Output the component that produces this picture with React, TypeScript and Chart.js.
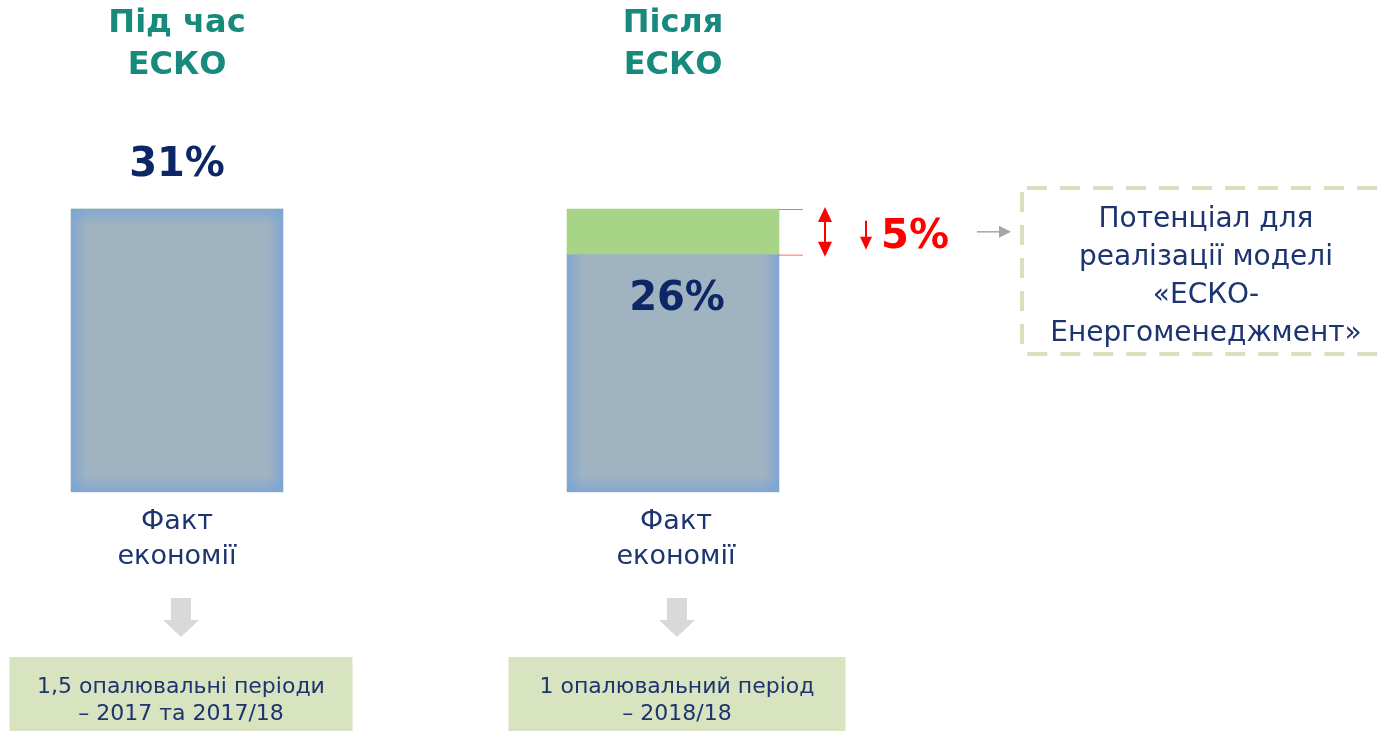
import React, { useEffect, useRef } from "react";
import { Chart, registerables } from "chart.js";

Chart.register(...registerables);

const categories = [["Під час", "ЕСКО"], ["Після", "ЕСКО"]];
const factValues = [31, 26];
const potentialValues = [0, 5];
const valueLabels = ["31%", "26%"];
const potentialLabel = "5%";
const barCaption = ["Факт", "економії"];
const periodLabels = [
  ["1,5 опалювальні періоди", "– 2017 та 2017/18"],
  ["1 опалювальний період", "– 2018/18"],
];
const noteLines = ["Потенціал для", "реалізації моделі", "«ЕСКО-", "Енергоменеджмент»"];

const FONT = '"DejaVu Sans", "Noto Sans", sans-serif';
const TEAL = "#17897d";
const NAVY = "#0d2766";
const NAVY_TXT = "#1c3470";
const RED = "#ff0000";
const BLUE_FILL = "#a0b3c1";
const GREEN_FILL = "#a8d488";
const BOX_FILL = "#d8e3bf";
const DASH = "#d6e2bd";

function arrowDown(ctx, cx, y0, y1, shaftW, headW, headH, color) {
  ctx.fillStyle = color;
  ctx.beginPath();
  ctx.moveTo(cx - shaftW / 2, y0);
  ctx.lineTo(cx + shaftW / 2, y0);
  ctx.lineTo(cx + shaftW / 2, y1 - headH);
  ctx.lineTo(cx + headW / 2, y1 - headH);
  ctx.lineTo(cx, y1);
  ctx.lineTo(cx - headW / 2, y1 - headH);
  ctx.lineTo(cx - shaftW / 2, y1 - headH);
  ctx.closePath();
  ctx.fill();
}

const decorPlugin = {
  id: "decor",
  afterDatasetsDraw(chart) {
    const ctx = chart.ctx;
    const meta0 = chart.getDatasetMeta(0);
    ctx.save();
    meta0.data.forEach((bar, i) => {
      const p = bar.getProps(["x", "y", "base", "width"], true);
      const l = p.x - p.width / 2;
      const r = p.x + p.width / 2;
      const t = p.y;
      const b = p.base;
      const g = 16;
      const c0 = "rgba(122,164,214,0.8)";
      const c1 = "rgba(122,164,214,0)";
      let gr = ctx.createLinearGradient(l, 0, l + g, 0);
      gr.addColorStop(0, c0);
      gr.addColorStop(1, c1);
      ctx.fillStyle = gr;
      ctx.fillRect(l, t, g, b - t);
      gr = ctx.createLinearGradient(r, 0, r - g, 0);
      gr.addColorStop(0, c0);
      gr.addColorStop(1, c1);
      ctx.fillStyle = gr;
      ctx.fillRect(r - g, t, g, b - t);
      gr = ctx.createLinearGradient(0, b, 0, b - g);
      gr.addColorStop(0, c0);
      gr.addColorStop(1, c1);
      ctx.fillStyle = gr;
      ctx.fillRect(l, b - g, r - l, g);
      if (potentialValues[i] === 0) {
        gr = ctx.createLinearGradient(0, t, 0, t + g);
        gr.addColorStop(0, c0);
        gr.addColorStop(1, c1);
        ctx.fillStyle = gr;
        ctx.fillRect(l, t, r - l, g);
      }
    });
    ctx.restore();
  },
  afterDraw(chart) {
    const ctx = chart.ctx;
    const meta0 = chart.getDatasetMeta(0);
    const meta1 = chart.getDatasetMeta(1);
    ctx.save();
    ctx.textAlign = "center";
    ctx.textBaseline = "middle";

    meta0.data.forEach((bar, i) => {
      const p = bar.getProps(["x", "y", "base", "width"], true);
      const cx = p.x;
      // titles
      ctx.fillStyle = TEAL;
      ctx.font = `bold 32px ${FONT}`;
      categories[i].forEach((ln, k) => ctx.fillText(ln, cx, 24 + k * 42));
      // value labels
      ctx.fillStyle = NAVY;
      ctx.font = `bold 40px ${FONT}`;
      if (potentialValues[i] === 0) {
        ctx.fillText(valueLabels[i], cx, p.y - 43);
      } else {
        ctx.fillText(valueLabels[i], cx + 4, p.y + 45);
      }
      // caption
      ctx.fillStyle = NAVY_TXT;
      ctx.font = `27px ${FONT}`;
      barCaption.forEach((ln, k) => ctx.fillText(ln, cx + 3 * i, p.base + 30 + k * 35));
      // down arrow
      arrowDown(ctx, cx + 4, p.base + 106, p.base + 145, 20, 36, 17, "#d9d9d9");
      // period box
      const bw = i === 0 ? 343 : 337;
      const bx = cx + 4 - bw / 2;
      ctx.fillStyle = BOX_FILL;
      ctx.fillRect(bx, p.base + 165, bw, 80);
      ctx.fillStyle = NAVY_TXT;
      ctx.font = `22px ${FONT}`;
      periodLabels[i].forEach((ln, k) => ctx.fillText(ln, cx + 4, p.base + 195 + k * 27));
    });

    // potential annotation
    const gBar = meta1.data[1].getProps(["x", "y", "base", "width"], true);
    const right = gBar.x + gBar.width / 2;
    const top = gBar.y;
    const bot = gBar.base;
    ctx.strokeStyle = "#ff6b6b";
    ctx.lineWidth = 1;
    ctx.beginPath();
    ctx.moveTo(right, top + 0.5);
    ctx.lineTo(right + 24, top + 0.5);
    ctx.moveTo(right, bot + 0.5);
    ctx.lineTo(right + 24, bot + 0.5);
    ctx.stroke();
    // double arrow
    const ax = right + 46;
    ctx.strokeStyle = RED;
    ctx.fillStyle = RED;
    ctx.lineWidth = 2;
    ctx.beginPath();
    ctx.moveTo(ax, top + 10);
    ctx.lineTo(ax, bot - 10);
    ctx.stroke();
    ctx.beginPath();
    ctx.moveTo(ax, top - 2);
    ctx.lineTo(ax + 7, top + 13);
    ctx.lineTo(ax - 7, top + 13);
    ctx.closePath();
    ctx.fill();
    ctx.beginPath();
    ctx.moveTo(ax, bot + 2);
    ctx.lineTo(ax + 7, bot - 13);
    ctx.lineTo(ax - 7, bot - 13);
    ctx.closePath();
    ctx.fill();
    // small down arrow + label
    const mid = (top + bot) / 2 + 4;
    const sx = right + 87;
    ctx.beginPath();
    ctx.moveTo(sx, mid - 15);
    ctx.lineTo(sx, mid + 4);
    ctx.stroke();
    ctx.beginPath();
    ctx.moveTo(sx, mid + 14);
    ctx.lineTo(sx + 6, mid + 1);
    ctx.lineTo(sx - 6, mid + 1);
    ctx.closePath();
    ctx.fill();
    ctx.font = `bold 40px ${FONT}`;
    ctx.fillText(potentialLabel, right + 136, mid + 2);
    // gray arrow
    ctx.strokeStyle = "#a6a6a6";
    ctx.fillStyle = "#a6a6a6";
    ctx.lineWidth = 1.5;
    ctx.beginPath();
    ctx.moveTo(right + 198, mid - 4);
    ctx.lineTo(right + 222, mid - 4);
    ctx.stroke();
    ctx.beginPath();
    ctx.moveTo(right + 232, mid - 4);
    ctx.lineTo(right + 220, mid - 10);
    ctx.lineTo(right + 220, mid + 2);
    ctx.closePath();
    ctx.fill();
    // dashed note box
    const nx = right + 243;
    const ny = top - 21;
    ctx.strokeStyle = DASH;
    ctx.lineWidth = 4;
    ctx.setLineDash([20, 13]);
    ctx.beginPath();
    ctx.roundRect(nx, ny, 380, 166, 5);
    ctx.stroke();
    ctx.setLineDash([]);
    ctx.fillStyle = NAVY_TXT;
    ctx.font = `28px ${FONT}`;
    noteLines.forEach((ln, k) => ctx.fillText(ln, nx + 184, ny + 32 + k * 38));
    ctx.restore();
  },
};

export default function App() {
  const ref = useRef(null);
  useEffect(() => {
    const chart = new Chart(ref.current, {
      type: "bar",
      data: {
        labels: categories.map((c) => c.join(" ")),
        datasets: [
          {
            label: "Факт економії",
            data: factValues,
            backgroundColor: BLUE_FILL,
            barThickness: 212,
            clip: false,
          },
          {
            label: "Потенціал",
            data: potentialValues,
            backgroundColor: GREEN_FILL,
            barThickness: 212,
            clip: false,
          },
        ],
      },
      options: {
        animation: false,
        responsive: false,
        devicePixelRatio: 1,
        layout: { padding: { top: 209, bottom: 239, left: 177, right: 704 } },
        plugins: { legend: { display: false }, tooltip: { enabled: false }, title: { display: false } },
        scales: {
          x: { type: "category", offset: false, display: false, stacked: true },
          y: { display: false, stacked: true, min: 0, max: 31 },
        },
      },
      plugins: [decorPlugin],
    });
    return () => chart.destroy();
  }, []);
  return (
    <div style={{ position: "fixed", left: 0, top: 0, width: 1377, height: 731, background: "#fff" }}>
      <canvas ref={ref} width={1377} height={731} />
    </div>
  );
}
